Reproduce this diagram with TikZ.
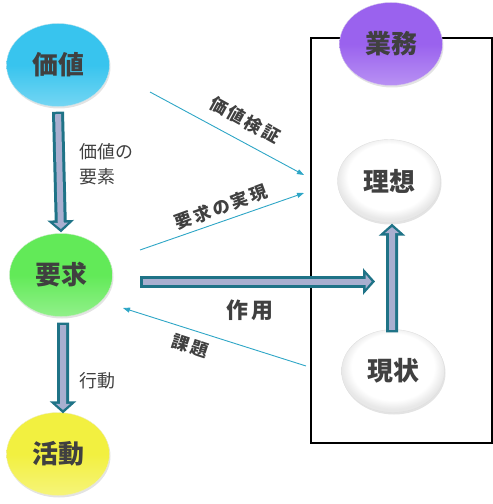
\documentclass[tikz,border=0pt]{standalone}
\usepackage{fontspec}
\newfontfamily\cjk{Noto Sans CJK JP}
\newfontfamily\cjkls{Noto Sans CJK JP}[LetterSpace=14]
\usetikzlibrary{shapes.geometric,arrows.meta,shadows}
\definecolor{txt}{HTML}{404040}
\definecolor{cyanb}{HTML}{38C4EE}
\definecolor{greenb}{HTML}{62EA58}
\definecolor{yellowb}{HTML}{F2F040}
\definecolor{purpleb}{HTML}{9A62EE}
\definecolor{aedge}{HTML}{1F7387}
\definecolor{afill}{HTML}{A9AFD0}
\definecolor{thinl}{HTML}{2EA6C6}
\pgfdeclareradialshading{softwhite}{\pgfpoint{0bp}{4bp}}{color(0bp)=(white); color(20bp)=(white); color(25bp)=(black!9); color(50bp)=(black!9)}
\tikzset{
  ball/.style={ellipse, minimum width=103bp, minimum height=83bp, inner sep=0pt,
    font=\cjk\bfseries\fontsize{26}{28}\selectfont, text=txt,
    drop shadow={opacity=0.22, shadow xshift=1bp, shadow yshift=-2bp}},
  colball/.style={ball, top color=#1, bottom color=#1!70!white, middle color=#1, draw=#1!80!black!30},
  whiteball/.style={ball, shading=softwhite, draw=black!12},
  bigout/.style={draw=aedge, line width=12bp, -{Triangle[length=12bp, width=26bp]}},
  bigin/.style={draw=afill, line width=6bp, shorten <=2.5bp, shorten >=3.4bp, -{Triangle[length=6.1bp, width=14bp]}},
  thin/.style={draw=thinl, line width=0.9bp, -{Triangle[length=7bp, width=5bp]}},
  lab/.style={font=\cjkls\bfseries\fontsize{17.5}{19}\selectfont, text=txt, inner sep=0pt},
  side/.style={font=\cjk\fontsize{18}{25}\selectfont, text=txt, inner sep=0pt, align=left}
}
\begin{document}
\begin{tikzpicture}[x=1bp,y=-1bp]
\useasboundingbox (0,0) rectangle (493,504);
% frame
\draw[line width=1.2bp] (311,38) rectangle (492,443);
% nodes
\node[colball=cyanb] (kachi) at (58,65) {価値};
\node[colball=purpleb] (gyomu) at (391,44) {業務};
\node[whiteball] (riso) at (389,181) {理想};
\node[colball=greenb] (youkyu) at (61,275) {要求};
\node[colball=yellowb] (katsudo) at (58,454) {活動};
\node[whiteball] (genjo) at (393,371) {現状};
% block arrows
\coordinate (a1s) at ([yshift=-5bp]kachi.south);
\coordinate (a1e) at ([yshift=1bp]youkyu.north);
\draw[bigout] (a1s) -- (a1e);
\draw[bigin] (a1s) -- (a1e);
\coordinate (a2s) at ([shift={(2bp,-6bp)}]youkyu.south);
\coordinate (a2e) at ([shift={(5bp,-1bp)}]katsudo.north);
\draw[bigout] (a2s) -- (a2e);
\draw[bigin] (a2s) -- (a2e);
\coordinate (a3s) at (140,281.5);
\coordinate (a3e) at (375,281.5);
\draw[bigout] (a3s) -- (a3e);
\draw[bigin] (a3s) -- (a3e);
\coordinate (a4s) at ([shift={(-1bp,-3bp)}]genjo.north);
\coordinate (a4e) at ([shift={(3bp,-1bp)}]riso.south);
\draw[bigout] (a4s) -- (a4e);
\draw[bigin] (a4s) -- (a4e);
% thin arrows
\coordinate (t1s) at (150,92);
\coordinate (t1e) at (304,175);
\draw[thin] (t1s) -- (t1e);
\coordinate (t2s) at (140,250);
\coordinate (t2e) at (304,193);
\draw[thin] (t2s) -- (t2e);
\coordinate (t3s) at (306,366);
\coordinate (t3e) at (123,308);
\draw[thin] (t3s) -- (t3e);
% labels
\node[lab, rotate=-29] (l1) at (245,120) {価値検証};
\node[lab, rotate=20] (l2) at (221,207) {要求の実現};
\node[lab, rotate=-18] (l3) at (190,346) {課題};
\node[font=\cjkls\bfseries\fontsize{22}{24}\selectfont, text=txt, inner sep=0pt] (l4) at (250,310) {作用};
\node[side, anchor=north west] (l5) at (79,143) {価値の\\要素};
\node[side, anchor=west] (l6) at (79,381) {行動};
\end{tikzpicture}
\end{document}
